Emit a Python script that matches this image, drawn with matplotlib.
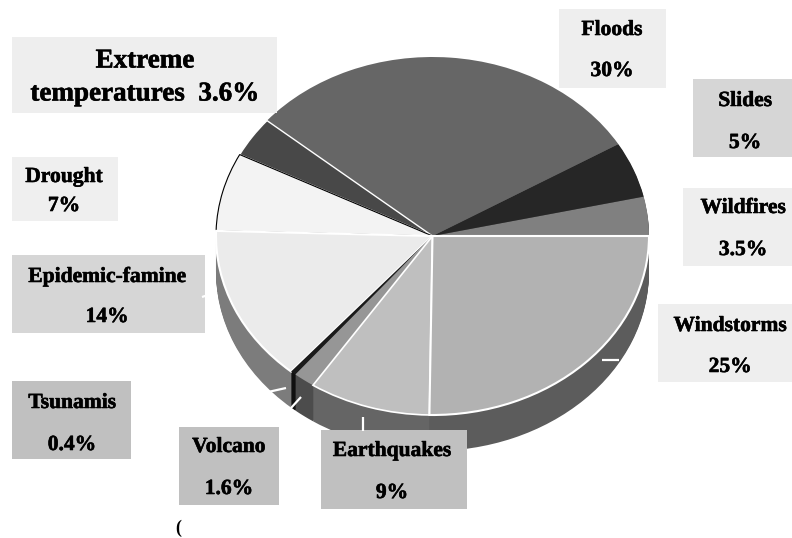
import matplotlib
matplotlib.use("Agg")
import matplotlib.pyplot as plt
import matplotlib.patheffects as pe
from matplotlib.patches import Rectangle

plt.rcParams["font.family"] = ["Liberation Serif", "DejaVu Serif"]

# Share of disasters by type, counter-clockwise from the right-hand side
NAMES = ["Wildfires", "Slides", "Floods", "Extreme\ntemperatures", "Drought",
         "Epidemic-famine", "Tsunamis", "Volcano", "Earthquakes", "Windstorms"]
SHARES = [3.5, 5, 30, 3.6, 7, 14, 0.4, 1.6, 9, 25]
SHARE_TEXT = ["3.5%", "5%", "30%", "3.6%", "7%", "14%", "0.4%", "1.6%", "9%", "25%"]

TOP_COLORS = ["#808080", "#262626", "#666666", "#484848", "#f3f3f3",
              "#ebebeb", "#1a1a1a", "#969696", "#bfbfbf", "#b2b2b2"]
WALL_COLORS = ["#5c5c5c", "#5c5c5c", "#5c5c5c", "#7c7c7c", "#7c7c7c",
               "#7c7c7c", "#101010", "#4c4c4c", "#656565", "#5c5c5c"]
EDGE_COLORS = ["none", "none", "none", "white", "black",
               "white", "none", "none", "white", "white"]
EDGE_WIDTHS = [0, 0, 0, 1, 0.8, 1.5, 0, 0, 1.2, 1.5]

# label boxes in pixels: x0, y0, x1, y1, facecolor
BOXES = [(683, 188, 792, 266, "#eeeeee"), (693, 79, 792, 157, "#d6d6d6"),
         (559, 9, 666, 88, "#eeeeee"), (12, 37, 277, 113, "#eeeeee"),
         (12, 157, 118, 221, "#efefef"), (12, 255, 205, 333, "#d6d6d6"),
         (12, 381, 131, 459, "#c0c0c0"), (179, 427, 279, 505, "#c0c0c0"),
         (321, 430, 467, 509, "#c0c0c0"), (658, 304, 792, 382, "#eeeeee")]
# text centre x, name y, value y
TEXT_POS = [(743, 208, 250), (745, 101, 143), (612, 30, 71), (145, 61, 94),
            (64, 177, 206), (107, 277, 317), (72, 403, 445), (229, 447, 489),
            (392, 451, 493), (730, 326, 367)]
LEADERS = [((202, 217), (297, 292)), ((602, 619), (360, 360)),
           ((363, 363), (417, 431)), ((291, 301), (408, 397)),
           ((268, 286), (392, 388))]

W, H = 792, 538
CX, CY, RX, RY = 432.5, 236, 216.5, 179
DEPTH = 36
HEAVY = [pe.withStroke(linewidth=0.4, foreground="black")]

fig = plt.figure(figsize=(W / 100, H / 100), dpi=100, facecolor="white")

ax = fig.add_axes([0, 0, 1, 1])
# side wall: the same pie stacked downward one pixel at a time
for d in range(DEPTH, 0, -1):
    ax.pie(SHARES, colors=WALL_COLORS, startangle=0, center=(0, -d / RY),
           wedgeprops={"linewidth": 0})
wedges, _ = ax.pie(SHARES, colors=TOP_COLORS, startangle=0)
for w, ec, lw in zip(wedges, EDGE_COLORS, EDGE_WIDTHS):
    w.set_edgecolor(ec)
    w.set_linewidth(lw)
ax.set_aspect("auto")
ax.set_xlim(-CX / RX, (W - CX) / RX)
ax.set_ylim(-(H - CY) / RY, CY / RY)
ax.axis("off")

# labels live on a pixel-based overlay
over = fig.add_axes([0, 0, 1, 1], facecolor="none")
over.set_xlim(0, W)
over.set_ylim(H, 0)
over.axis("off")

for xs, ys in LEADERS:
    over.plot(xs, ys, color="white", lw=1.6, solid_capstyle="butt")

for i, (name, txt) in enumerate(zip(NAMES, SHARE_TEXT)):
    x0, y0, x1, y1, fc = BOXES[i]
    over.add_patch(Rectangle((x0, y0), x1 - x0, y1 - y0, facecolor=fc, edgecolor="none"))
    tx, ny, vy = TEXT_POS[i]
    if name.startswith("Extreme"):
        first, second = name.split("\n")
        over.text(tx, ny, first, ha="center", va="center", fontsize=19.5,
                  fontweight="bold", path_effects=HEAVY)
        over.text(tx, vy, f"{second}  {txt}", ha="center", va="center",
                  fontsize=19.5, fontweight="bold", path_effects=HEAVY)
    else:
        over.text(tx, ny, name, ha="center", va="center", fontsize=15.5,
                  fontweight="bold", path_effects=HEAVY)
        over.text(tx, vy, txt, ha="center", va="center", fontsize=15.5,
                  fontweight="bold", path_effects=HEAVY)

over.text(178, 528, "(", ha="center", va="center", fontsize=13, fontweight="bold")

fig.savefig("out.png", dpi=100)
